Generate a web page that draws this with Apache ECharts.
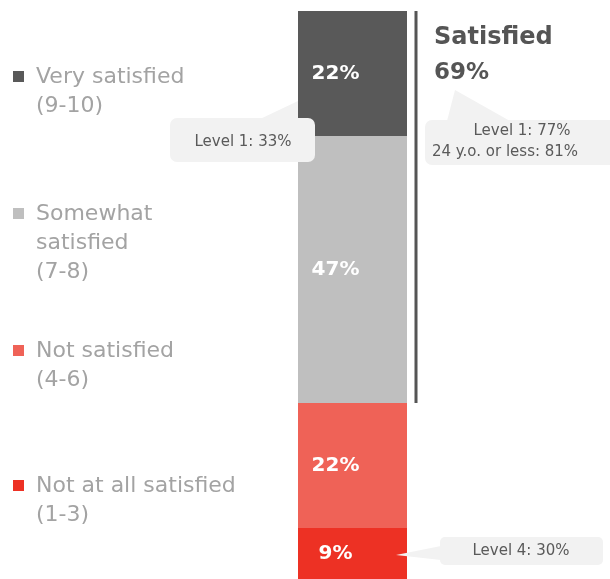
<!DOCTYPE html>
<html><head><meta charset="utf-8">
<script src="https://cdn.jsdelivr.net/npm/echarts@6/dist/echarts.min.js"></script>
<style>html,body{margin:0;padding:0;background:#fff}#c{width:610px;height:579px}</style>
</head><body><div id="c"></div>
<script>
// Data (stack order bottom -> top)
const categories = ['Satisfaction'];
const seriesNames = ['Not at all satisfied', 'Not satisfied', 'Somewhat satisfied', 'Very satisfied'];
const legendLines = [
  ['Not at all satisfied', '(1-3)'],
  ['Not satisfied', '(4-6)'],
  ['Somewhat', 'satisfied', '(7-8)'],
  ['Very satisfied', '(9-10)']
];
const values = [9, 22, 47, 22];
const colors = ['#ed3124', '#ef6257', '#bfbfbf', '#595959'];
const satisfiedTitle = 'Satisfied';
const callout1 = 'Level 1: 33%';
const callout2 = ['Level 1: 77%', '24 y.o. or less: 81%'];
const callout3 = 'Level 4: 30%';

const FONT = 'DejaVu Sans';
const chart = echarts.init(document.getElementById('c'), null, {renderer: 'canvas'});

const series = seriesNames.map((n, i) => ({
  name: n, type: 'bar', stack: 'total', barWidth: '100%',
  data: [values[i]],
  itemStyle: {color: colors[i]},
  label: {show: true, position: 'inside', offset: [-17, 0], formatter: '{c}%',
    color: '#fff', fontSize: 20, fontWeight: 'bold', fontFamily: FONT},
  z: 2
}));

chart.setOption({
  animation: false,
  grid: {left: 298, width: 109, top: 11, bottom: 0},
  xAxis: {type: 'category', data: categories, show: false},
  yAxis: {type: 'value', min: 0, max: 100, show: false},
  series: series
});

// positions through library scales
const xC = chart.convertToPixel({gridIndex: 0}, [0, 0])[0];
const xR = xC + 54.5;
const yTop = chart.convertToPixel({gridIndex: 0}, [0, 100])[1];
const satBottomVal = values[0] + values[1];
const ySatBottom = chart.convertToPixel({gridIndex: 0}, [0, satBottomVal])[1];
const satisfiedPct = values[2] + values[3];

const legendTops = [486, 351, 214, 77];
const graphic = [];
legendLines.forEach((lines, i) => {
  const top = legendTops[i];
  graphic.push({type: 'rect', shape: {x: 13, y: top - 6, width: 11, height: 11}, style: {fill: colors[i]}});
  lines.forEach((t, k) => {
    graphic.push({type: 'text', x: 36, y: top + k * 29, style: {text: t, fill: '#a3a3a3', font: '22px "' + FONT + '"', textVerticalAlign: 'middle'}});
  });
});

// bracket line
graphic.push({type: 'line', shape: {x1: xR + 9, y1: yTop, x2: xR + 9, y2: ySatBottom}, style: {stroke: '#555', lineWidth: 3}, z: 5});
graphic.push({type: 'text', x: 434, y: 38, style: {text: satisfiedTitle, fill: '#555', font: 'bold 24px "' + FONT + '"', textVerticalAlign: 'middle'}});
graphic.push({type: 'text', x: 434, y: 73, style: {text: satisfiedPct + '%', fill: '#555', font: 'bold 23px "' + FONT + '"', textVerticalAlign: 'middle'}});

// callout 1
graphic.push({type: 'polygon', shape: {points: [[258, 120], [298, 120], [298, 101]]}, style: {fill: '#f2f2f2'}, z: 1});
graphic.push({type: 'rect', shape: {x: 170, y: 118, width: 145, height: 44, r: 7}, style: {fill: '#f2f2f2'}, z: 10});
graphic.push({type: 'text', x: 243, y: 142, style: {text: callout1, fill: '#5a5a5a', font: '15px "' + FONT + '"', textAlign: 'center', textVerticalAlign: 'middle'}, z: 11});

// callout 2
graphic.push({type: 'polygon', shape: {points: [[447, 121], [510, 121], [455, 90]]}, style: {fill: '#f2f2f2'}, z: 10});
graphic.push({type: 'rect', shape: {x: 425, y: 120, width: 200, height: 45, r: 7}, style: {fill: '#f2f2f2'}, z: 10});
graphic.push({type: 'text', x: 522, y: 131, style: {text: callout2[0], fill: '#5a5a5a', font: '15px "' + FONT + '"', textAlign: 'center', textVerticalAlign: 'middle'}, z: 11});
graphic.push({type: 'text', x: 432, y: 152, style: {text: callout2[1], fill: '#5a5a5a', font: '15px "' + FONT + '"', textVerticalAlign: 'middle'}, z: 11});

// callout 3
graphic.push({type: 'polygon', shape: {points: [[441, 546], [441, 560], [396, 555]]}, style: {fill: '#f2f2f2'}, z: 10});
graphic.push({type: 'rect', shape: {x: 440, y: 537, width: 163, height: 28, r: 5}, style: {fill: '#f2f2f2'}, z: 10});
graphic.push({type: 'text', x: 521, y: 551, style: {text: callout3, fill: '#5a5a5a', font: '15px "' + FONT + '"', textAlign: 'center', textVerticalAlign: 'middle'}, z: 11});

chart.setOption({graphic: graphic});
</script></body></html>
